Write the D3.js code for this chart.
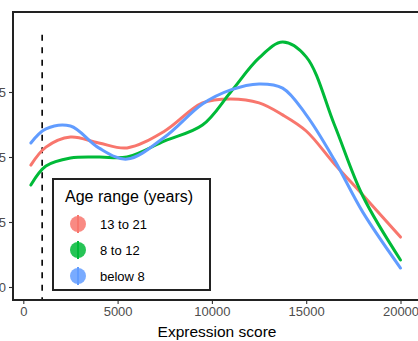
<!DOCTYPE html>
<html>
<head>
<meta charset="utf-8">
<script src="https://cdn.jsdelivr.net/npm/d3@7"></script>
<style>
  body { margin: 0; background: #fff; }
  text { font-family: "Liberation Sans", Arial, Helvetica, sans-serif; }
</style>
</head>
<body>
<svg width="418" height="341"></svg>
<script>
const svg = d3.select("svg"),
    width = +svg.attr("width"),
    height = +svg.attr("height");

// expression score grid and density (x 1e-5) per age group
const scores = [400, 1200, 2500, 4000, 5500, 7500, 9500, 11000, 12500, 13750, 15000, 16500, 18000, 20000];
const teen = [4.69, 5.38, 5.77, 5.54, 5.35, 6.0, 7.08, 7.23, 7.08, 6.62, 6.0, 4.73, 3.54, 1.92];
const child = [3.92, 4.65, 4.96, 5.0, 5.0, 5.62, 6.23, 7.5, 8.81, 9.42, 8.85, 6.23, 3.5, 1.04];
const young = [5.54, 6.08, 6.19, 5.35, 4.92, 5.77, 7.04, 7.58, 7.81, 7.65, 6.62, 4.88, 2.88, 0.73];

const groups = ["13 to 21", "8 to 12", "below 8"];
const groupValues = [teen, child, young];
const colors = ["#F8766D", "#00BA38", "#619CFF"];

const xTicks = [0, 5000, 10000, 15000, 20000];
const yTicks = [0, 2.5, 5.0, 7.5];
const yTickLabels = ["0e+00", "2.5e-05", "5.0e-05", "7.5e-05"];
const cutoff = 1000;

const panel = {left: 13, top: 12, right: 421, bottom: 300};

const x = d3.scaleLinear().domain([0, 20000]).range([23.3, 400.5]);
const y = d3.scaleLinear().domain([0, 7.5]).range([287, 92]);

// dashed cutoff line
svg.append("line")
    .attr("x1", x(cutoff)).attr("x2", x(cutoff))
    .attr("y1", y(9.7)).attr("y2", panel.bottom)
    .attr("stroke", "#000")
    .attr("stroke-width", 1.6)
    .attr("stroke-dasharray", "6,6.5");

const line = d3.line()
    .x(d => x(d[0]))
    .y(d => y(d[1]))
    .curve(d3.curveCatmullRom.alpha(0.5));

svg.append("g")
  .selectAll("path")
  .data(groupValues)
  .enter().append("path")
    .attr("d", vals => line(scores.map((s, i) => [s, vals[i]])))
    .attr("fill", "none")
    .attr("stroke", (d, i) => colors[i])
    .attr("stroke-width", 3)
    .attr("stroke-linecap", "round");

// panel border
svg.append("rect")
    .attr("x", panel.left)
    .attr("y", panel.top)
    .attr("width", panel.right - panel.left)
    .attr("height", panel.bottom - panel.top)
    .attr("fill", "none")
    .attr("stroke", "#222")
    .attr("stroke-width", 2);

// x axis
const xAxis = svg.append("g")
    .attr("transform", `translate(0,${panel.bottom + 1})`)
    .call(d3.axisBottom(x).tickValues(xTicks).tickSize(3).tickPadding(3).tickFormat(d3.format("d")));
xAxis.select(".domain").remove();
xAxis.selectAll("line").attr("stroke", "#333").attr("stroke-width", 1.1);
xAxis.selectAll("text").attr("fill", "#4D4D4D").attr("font-size", "13px");

// y axis (labels cropped by the left edge, as in the original)
const yAxis = svg.append("g")
    .attr("transform", `translate(${panel.left - 1},0)`)
    .call(d3.axisLeft(y).tickValues(yTicks).tickSize(3).tickPadding(3).tickFormat((d, i) => yTickLabels[i]));
yAxis.select(".domain").remove();
yAxis.selectAll("line").attr("stroke", "#333").attr("stroke-width", 1.1);
yAxis.selectAll("text").attr("fill", "#4D4D4D").attr("font-size", "13px");

svg.append("text")
    .attr("x", (panel.left + panel.right) / 2)
    .attr("y", 337)
    .attr("text-anchor", "middle")
    .attr("font-size", "15.5px")
    .attr("fill", "#000")
    .text("Expression score");

// legend
const legend = svg.append("g");
legend.append("rect")
    .attr("x", 53).attr("y", 179)
    .attr("width", 157).attr("height", 111)
    .attr("fill", "#fff")
    .attr("stroke", "#222")
    .attr("stroke-width", 2);

legend.append("text")
    .attr("x", 65).attr("y", 202)
    .attr("font-size", "16px")
    .attr("fill", "#000")
    .text("Age range (years)");

const keyY = [224, 250, 276];
const key = legend.selectAll("g.key")
  .data(groups)
  .enter().append("g")
    .attr("class", "key")
    .attr("transform", (d, i) => `translate(78,${keyY[i]})`);

key.append("circle")
    .attr("r", 8)
    .attr("fill", (d, i) => colors[i])
    .attr("fill-opacity", 0.85);
key.append("line")
    .attr("y1", -9).attr("y2", 9)
    .attr("stroke", (d, i) => colors[i])
    .attr("stroke-width", 2);
key.append("text")
    .attr("x", 22).attr("y", 4.5)
    .attr("font-size", "13px")
    .attr("fill", "#000")
    .text(d => d);
</script>
</body>
</html>
